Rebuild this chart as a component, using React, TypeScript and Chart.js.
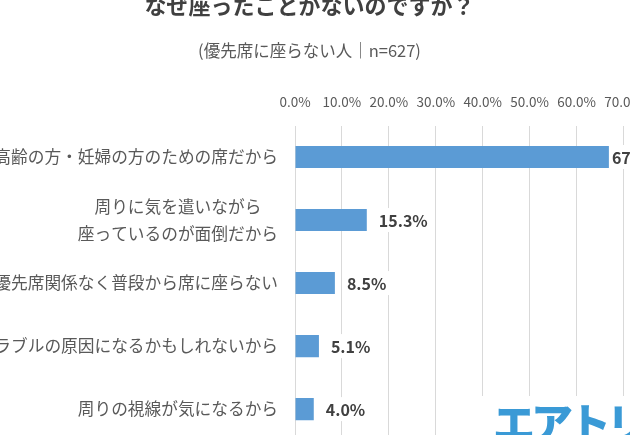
import React, { useEffect, useRef } from "react";
import { Chart, registerables } from "chart.js";

Chart.register(...registerables);

// ---- data ----
const titleText = "なぜ座ったことがないのですか？";
const subtitleText = "(優先席に座らない人｜n=627)";
const categories: (string | string[])[] = [
  "高齢の方・妊婦の方のための席だから",
  ["周りに気を遣いながら　", "座っているのが面倒だから"],
  "優先席関係なく普段から席に座らない",
  "トラブルの原因になるかもしれないから",
  "周りの視線が気になるから",
];
const values = [67.1, 15.3, 8.5, 5.1, 4.0];
const xTickValues = [0, 10, 20, 30, 40, 50, 60, 70];
const watermarkText = "エアトリ";

const FONT = "'Noto Sans CJK JP', 'Noto Sans', sans-serif";

// offsets of the canvas relative to the visible 630x435 window
const OFF_X = 40;
const OFF_Y = 20;
const CANVAS_W = 699;
const CANVAS_H = 491;

const valueLabelPlugin = {
  id: "valueLabels",
  afterDatasetsDraw(chart: any) {
    const ctx = chart.ctx as CanvasRenderingContext2D;
    const meta = chart.getDatasetMeta(0);
    const right = chart.chartArea.right;
    ctx.save();
    ctx.font = `bold 16px ${FONT}`;
    ctx.textBaseline = "middle";
    ctx.textAlign = "left";
    meta.data.forEach((bar: any, i: number) => {
      const text = values[i].toFixed(1) + "%";
      const w = ctx.measureText(text).width;
      let x = bar.x + 12;
      if (x + w > right) x = bar.x + 2;
      const y = bar.y;
      ctx.fillStyle = "#ffffff";
      ctx.fillRect(x - 3, y - 12, w + 6, 24);
      ctx.fillStyle = "#404040";
      ctx.fillText(text, x, y + 1);
    });
    ctx.restore();
  },
};

const watermarkPlugin = {
  id: "watermark",
  afterDraw(chart: any) {
    const ctx = chart.ctx as CanvasRenderingContext2D;
    ctx.save();
    const left = 478 + OFF_X;
    const top = 396 + OFF_Y;
    ctx.fillStyle = "#ffffff";
    ctx.fillRect(left, top, CANVAS_W - left, CANVAS_H - top);
    ctx.fillStyle = "#3a9ad6";
    ctx.font = `900 42px ${FONT}`;
    (ctx as any).letterSpacing = "-4px";
    ctx.textBaseline = "top";
    ctx.textAlign = "left";
    ctx.fillText(watermarkText, 493 + OFF_X, 402 + OFF_Y);
    ctx.restore();
  },
};

function BarChart() {
  const ref = useRef<HTMLCanvasElement | null>(null);

  useEffect(() => {
    if (!ref.current) return;
    const chart = new Chart(ref.current, {
      type: "bar",
      data: {
        labels: categories,
        datasets: [
          {
            data: values,
            backgroundColor: "#5b9bd5",
            borderWidth: 0,
            categoryPercentage: 0.35,
            barPercentage: 1.0,
          },
        ],
      },
      options: {
        animation: false,
        responsive: false,
        devicePixelRatio: 1,
        indexAxis: "y",
        layout: { padding: { left: 35.5, right: 35.5, top: 0, bottom: 0 } },
        plugins: {
          legend: { display: false },
          tooltip: { enabled: false },
          title: {
            display: true,
            text: titleText,
            color: "#404040",
            font: { family: FONT, size: 22, weight: "bold", lineHeight: 1.2 },
            padding: { top: 12, bottom: 0 },
          },
          subtitle: {
            display: true,
            text: subtitleText,
            color: "#595959",
            font: { family: FONT, size: 16.5, lineHeight: 1.2 },
            padding: { top: 22, bottom: 0 },
          },
        },
        scales: {
          x: {
            position: "top",
            min: xTickValues[0],
            max: xTickValues[xTickValues.length - 1],
            grid: { color: "#d9d9d9", lineWidth: 1, drawTicks: false },
            border: { display: false },
            afterBuildTicks: (scale: any) => {
              scale.ticks = xTickValues.map((v) => ({ value: v }));
            },
            ticks: {
              padding: 16,
              color: "#595959",
              font: { family: FONT, size: 13.5 },
              maxRotation: 0,
              autoSkip: false,
              callback: (v: any) => Number(v).toFixed(1) + "%",
            },
            afterFit: (scale: any) => {
              scale.height = 65.3;
            },
          },
          y: {
            grid: { display: false, drawTicks: false },
            border: { display: false },
            ticks: {
              padding: 17,
              color: "#595959",
              font: { family: FONT, size: 16.7, lineHeight: 1.6 },
              autoSkip: false,
            },
            afterFit: (scale: any) => {
              scale.width = 299.5;
            },
          },
        },
      } as any,
      plugins: [valueLabelPlugin, watermarkPlugin],
    });
    return () => chart.destroy();
  }, []);

  return (
    <canvas
      ref={ref}
      width={CANVAS_W}
      height={CANVAS_H}
      style={{
        position: "absolute",
        left: -OFF_X,
        top: -OFF_Y,
        width: CANVAS_W,
        height: CANVAS_H,
      }}
    />
  );
}

export default function App() {
  return (
    <div
      style={{
        position: "fixed",
        left: 0,
        top: 0,
        width: 630,
        height: 435,
        overflow: "hidden",
        background: "#ffffff",
      }}
    >
      <BarChart />
    </div>
  );
}
